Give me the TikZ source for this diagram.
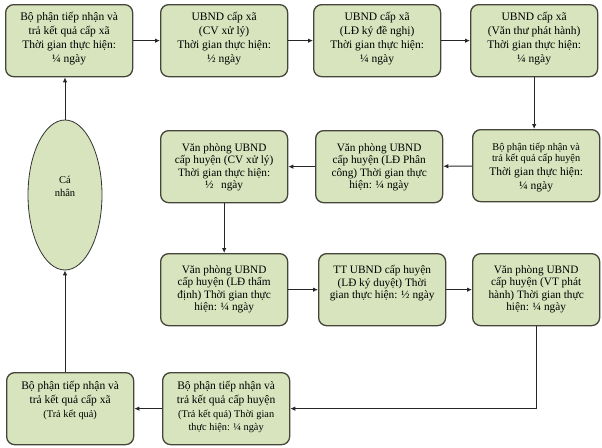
\documentclass[tikz,border=0pt]{standalone}
\usepackage{fontspec}
\setmainfont{Liberation Serif}
\usepackage{tikz}
\usetikzlibrary{positioning,shapes.geometric,arrows.meta}

\definecolor{stagefill}{HTML}{D7E4BD}
\definecolor{stageline}{HTML}{45453A}
\newcommand{\stagetext}[2][7pt]{\parbox[t][72pt][t]{124pt}{\vspace*{#1}\centering #2}}
\tikzset{
  stage/.style={draw=stageline, fill=stagefill, line width=1.3pt, rounded corners=8pt, inner sep=0pt, minimum width=127pt, anchor=north west, font=\fontsize{11.5}{13.8}\selectfont},
  tight/.style={font=\fontsize{11.3}{12.4}\selectfont},
  flow/.style={draw=black!85, line width=0.9pt, -{Latex[length=5pt,width=4.5pt]}}
}

\begin{document}
\begin{tikzpicture}[x=1pt,y=-1pt]
\useasboundingbox (0,0) rectangle (602,447);
\node[stage] (A) at (5,4) {\stagetext[8pt]{Bộ phận tiếp nhận và\\trả kết quả cấp xã\\Thời gian thực hiện:\\¼ ngày}};
\node[stage] (B) at (160,4) {\stagetext[8pt]{UBND cấp xã\\(CV xử lý)\\Thời gian thực hiện:\\½ ngày}};
\node[stage] (C) at (313,4) {\stagetext[8pt]{UBND cấp xã\\(LĐ ký đề nghị)\\Thời gian thực hiện:\\¼ ngày}};
\node[stage] (D) at (470,4) {\stagetext[8pt]{UBND cấp xã\\(Văn thư phát hành)\\Thời gian thực hiện:\\¼ ngày}};
\node[stage] (E) at (472,129) {\stagetext[13pt]{{\fontsize{10.3}{11.5}\selectfont Bộ phận tiếp nhận và\\trả kết quả cấp huyện\\}Thời gian thực hiện:\\¼ ngày}};
\node[stage, tight] (G) at (315,130) {\stagetext[13pt]{Văn phòng UBND\\cấp huyện (LĐ Phân\\công) Thời gian thực\\hiện: ¼ ngày}};
\node[stage, tight] (F) at (160,130) {\stagetext[13pt]{Văn phòng UBND\\cấp huyện (CV xử lý)\\Thời gian thực hiện:\\½ \, ngày}};
\node[stage, tight] (H) at (160,253) {\stagetext[12pt]{Văn phòng UBND\\cấp huyện (LĐ thẩm\\định) Thời gian thực\\hiện: ¼ ngày}};
\node[stage, tight] (I) at (318,253) {\stagetext[12pt]{TT UBND cấp huyện\\(LĐ ký duyệt) Thời\\gian thực hiện: ½ ngày}};
\node[stage, tight] (J) at (472,253) {\stagetext[12pt]{Văn phòng UBND\\cấp huyện (VT phát\\hành) Thời gian thực\\hiện: ¼ ngày}};
\node[stage] (L) at (162,372) {\stagetext[9pt]{Bộ phận tiếp nhận và\\trả kết quả cấp huyện\\{\fontsize{10.3}{13.4}\selectfont (Trả kết quả) Thời gian\\thực hiện: ¼ ngày}}};
\node[stage] (K) at (6,372) {\stagetext[9pt]{Bộ phận tiếp nhận và\\trả kết quả cấp xã\\{\fontsize{10.3}{13.4}\selectfont (Trả kết quả)}}};
\node[ellipse, draw=black!80, fill=stagefill, line width=0.8pt, minimum width=74pt, minimum height=150pt, align=center, font=\fontsize{10.5}{13}\selectfont] (P) at (65,195) {Cá\\nhân\\[4pt]};
\draw[flow] (A) -- (B);
\draw[flow] (B) -- (C);
\draw[flow] (C) -- (D);
\draw[flow] (D.south) -- (D.south |- E.north);
\draw[flow] (E) -- (G);
\draw[flow] (G) -- (F);
\draw[flow] (F) -- (H);
\draw[flow] (H) -- (I);
\draw[flow] (I) -- (J);
\draw[flow] (J.south) |- (L.east);
\draw[flow] (L) -- (K);
\draw[flow] (P.south |- K.north) -- (P.south);
\draw[flow] (P.north) -- (P.north |- A.south);
\end{tikzpicture}
\end{document}
